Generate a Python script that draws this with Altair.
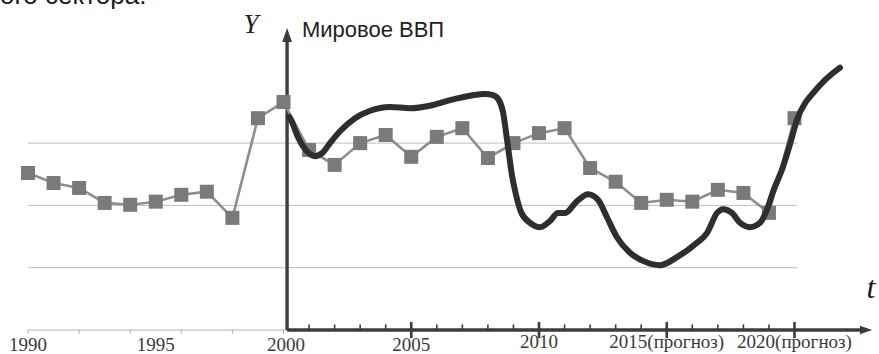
import altair as alt
import pandas as pd

# ---- data ----
sq_years = list(range(1990, 2021))
sq_values = [2.52, 2.36, 2.28, 2.04, 2.01, 2.06, 2.17, 2.22, 1.80, 3.40,
             3.66, 2.89, 2.65, 3.00, 3.13, 2.78, 3.10, 3.24, 2.76, 3.00,
             3.16, 3.24, 2.60, 2.38, 2.04, 2.09, 2.06, 2.25, 2.20, 1.88, 3.40]

gdp_t = [2000.22, 2000.33, 2000.53, 2000.76, 2001.00, 2001.23, 2001.51, 2001.82,
         2002.21, 2002.80, 2003.39, 2004.17, 2004.95, 2005.73, 2006.52, 2007.30,
         2007.89, 2008.20, 2008.43, 2008.59, 2008.75, 2008.94, 2009.10, 2009.30,
         2009.65, 2010.04, 2010.43, 2010.74, 2011.02, 2011.49, 2011.92, 2012.31,
         2012.66, 2013.05, 2013.56, 2014.07, 2014.74, 2015.40, 2016.18, 2016.58,
         2016.97, 2017.20, 2017.55, 2017.87, 2018.26, 2018.65, 2018.92, 2019.16,
         2019.55, 2019.85, 2020.10, 2020.41, 2020.72, 2021.19, 2021.78]
gdp_v = [3.42, 3.34, 3.13, 2.95, 2.84, 2.79, 2.84, 3.00,
         3.19, 3.40, 3.52, 3.58, 3.56, 3.60, 3.69, 3.76,
         3.79, 3.77, 3.69, 3.50, 3.05, 2.49, 2.17, 1.89,
         1.72, 1.65, 1.75, 1.88, 1.88, 2.07, 2.18, 2.09,
         1.81, 1.49, 1.24, 1.11, 1.04, 1.17, 1.40, 1.56,
         1.88, 1.94, 1.88, 1.72, 1.65, 1.72, 1.93, 2.22,
         2.62, 3.02, 3.38, 3.64, 3.80, 4.01, 4.21]

grid_levels = [1, 2, 3]
left_tick_years = [1990, 1992, 1994, 1996, 1998, 2000]
small_tick_years = [y for y in range(2001, 2020) if y % 5 != 0]
big_tick_years = [2005, 2010, 2015, 2020]
label_years_left = [1990, 1995, 2000.1, 2005]
label_text_left = ["1990", "1995", "2000", "2005"]
label_years_right = [2010, 2015, 2020]
label_text_right = ["2010", "2015(прогноз)", "2020(прогноз)"]

title_text = "Мировое ВВП"
y_name = "Y"
t_name = "t"
top_text = "ого сектора."

# ---- scales / layout constants ----
X0, X1 = 1988.904, 2023.307
Y0, Y1 = -0.385, 5.297
xs = alt.Scale(domain=[X0, X1], nice=False, zero=False)
ys = alt.Scale(domain=[Y0, Y1], nice=False, zero=False)
AX = 2000.14  # vertical axis position
DARK = "#3c3c3c"


def X(f="t"):
    return alt.X(f"{f}:Q", scale=xs, axis=None)


def Y(f="v"):
    return alt.Y(f"{f}:Q", scale=ys, axis=None)


def seg(x, x2, y, y2):
    return pd.DataFrame({"t": [x], "t2": [x2], "v": [y], "v2": [y2]})


sq_df = pd.DataFrame({"t": sq_years, "v": sq_values})
gdp_df = pd.DataFrame({"t": gdp_t, "v": gdp_v})

grid_df = pd.DataFrame({"v": grid_levels, "t": [1990] * 3, "t2": [2020.1] * 3})
grid = alt.Chart(grid_df).mark_rule(color="#b5b5b5", strokeWidth=0.9).encode(
    x=X(), x2="t2:Q", y=Y()
)

left_axis = alt.Chart(seg(1990, AX, 0, 0)).mark_rule(color="#b0b0b0", strokeWidth=1).encode(
    x=X(), x2="t2:Q", y=Y()
)
lt_df = pd.DataFrame({"t": left_tick_years, "v": [0] * len(left_tick_years),
                      "v2": [-0.06] * len(left_tick_years)})
left_ticks = alt.Chart(lt_df).mark_rule(color="#aaaaaa", strokeWidth=1).encode(
    x=X(), y=Y(), y2="v2:Q"
)

right_axis = alt.Chart(seg(AX, 2022.6, 0, 0)).mark_rule(color=DARK, strokeWidth=3.4).encode(
    x=X(), x2="t2:Q", y=Y()
)
right_arrow = alt.Chart(pd.DataFrame({"t": [2022.8], "v": [0]})).mark_point(
    shape="M1,0L-1,-0.7L-1,0.7Z", size=150, filled=True, opacity=1, color=DARK
).encode(x=X(), y=Y())

st_df = pd.DataFrame({"t": small_tick_years, "v": [0] * len(small_tick_years),
                      "v2": [0.09] * len(small_tick_years)})
small_ticks = alt.Chart(st_df).mark_rule(color=DARK, strokeWidth=1.6).encode(
    x=X(), y=Y(), y2="v2:Q"
)
bt_df = pd.DataFrame({"t": big_tick_years, "v": [-0.13] * len(big_tick_years),
                      "v2": [0.13] * len(big_tick_years)})
big_ticks = alt.Chart(bt_df).mark_rule(color=DARK, strokeWidth=2.6).encode(
    x=X(), y=Y(), y2="v2:Q"
)

y_axis = alt.Chart(seg(AX, AX, 0, 4.68)).mark_rule(color=DARK, strokeWidth=3.4).encode(
    x=X(), y=Y(), y2="v2:Q"
)
y_arrow = alt.Chart(pd.DataFrame({"t": [AX], "v": [4.735]})).mark_point(
    shape="M0,-1L0.7,1L-0.7,1Z", size=196, filled=True, opacity=1, color=DARK
).encode(x=X(), y=Y())

sq_line = alt.Chart(sq_df).mark_line(color="#8e8e8e", strokeWidth=2.6).encode(
    x=X(), y=Y()
)
sq_pts = alt.Chart(sq_df).mark_square(size=196, color="#7a7a7a", opacity=1, filled=True).encode(
    x=X(), y=Y()
)

gdp_line = alt.Chart(gdp_df).mark_line(
    color="#2e2e2e", strokeWidth=6, interpolate="monotone",
    strokeCap="round", strokeJoin="round"
).encode(x=X(), y=Y())

ll_df = pd.DataFrame({"t": label_years_left, "s": label_text_left,
                      "v": [-0.335] * len(label_years_left)})
lab_left = alt.Chart(ll_df).mark_text(
    font="Liberation Serif", fontSize=19, color="#3a3a3a", align="center", baseline="alphabetic"
).encode(x=X(), y=Y(), text="s:N")

lr_df = pd.DataFrame({"t": label_years_right, "s": label_text_right,
                      "v": [-0.29] * len(label_years_right)})
lab_right = alt.Chart(lr_df).mark_text(
    font="Liberation Serif", fontSize=19, color="#3a3a3a", align="center", baseline="alphabetic"
).encode(x=X(), y=Y(), text="s:N")

title = alt.Chart(pd.DataFrame({"t": [2000.72], "v": [4.70], "s": [title_text]})).mark_text(
    font="Liberation Sans", fontSize=22, color="#1e1e1e", align="left", baseline="alphabetic"
).encode(x=X(), y=Y(), text="s:N")

y_lab = alt.Chart(pd.DataFrame({"t": [1998.73], "v": [4.77], "s": [y_name]})).mark_text(
    font="Liberation Serif", fontSize=27, fontStyle="italic", color="#1e1e1e",
    align="center", baseline="alphabetic"
).encode(x=X(), y=Y(), text="s:N")

t_lab = alt.Chart(pd.DataFrame({"t": [2022.99], "v": [0.51], "s": [t_name]})).mark_text(
    font="Liberation Serif", fontSize=32, fontStyle="italic", color="#1e1e1e",
    align="center", baseline="alphabetic"
).encode(x=X(), y=Y(), text="s:N")

top_lab = alt.Chart(pd.DataFrame({"t": [X0], "v": [5.235], "s": [top_text]})).mark_text(
    font="Liberation Sans", fontSize=26, color="#1a1a1a", align="left", baseline="alphabetic"
).encode(x=X(), y=Y(), text="s:N")

chart = alt.layer(
    grid, left_axis, left_ticks, right_axis, right_arrow, small_ticks, big_ticks,
    y_axis, y_arrow, sq_line, sq_pts, gdp_line,
    lab_left, lab_right, title, y_lab, t_lab, top_lab,
).properties(
    width=879, height=354,
    autosize=alt.AutoSizeParams(type="none"),
    padding=0, background="white",
).configure_view(stroke=None)

chart.save("out.html", embed_options={"renderer": "svg", "actions": False})
